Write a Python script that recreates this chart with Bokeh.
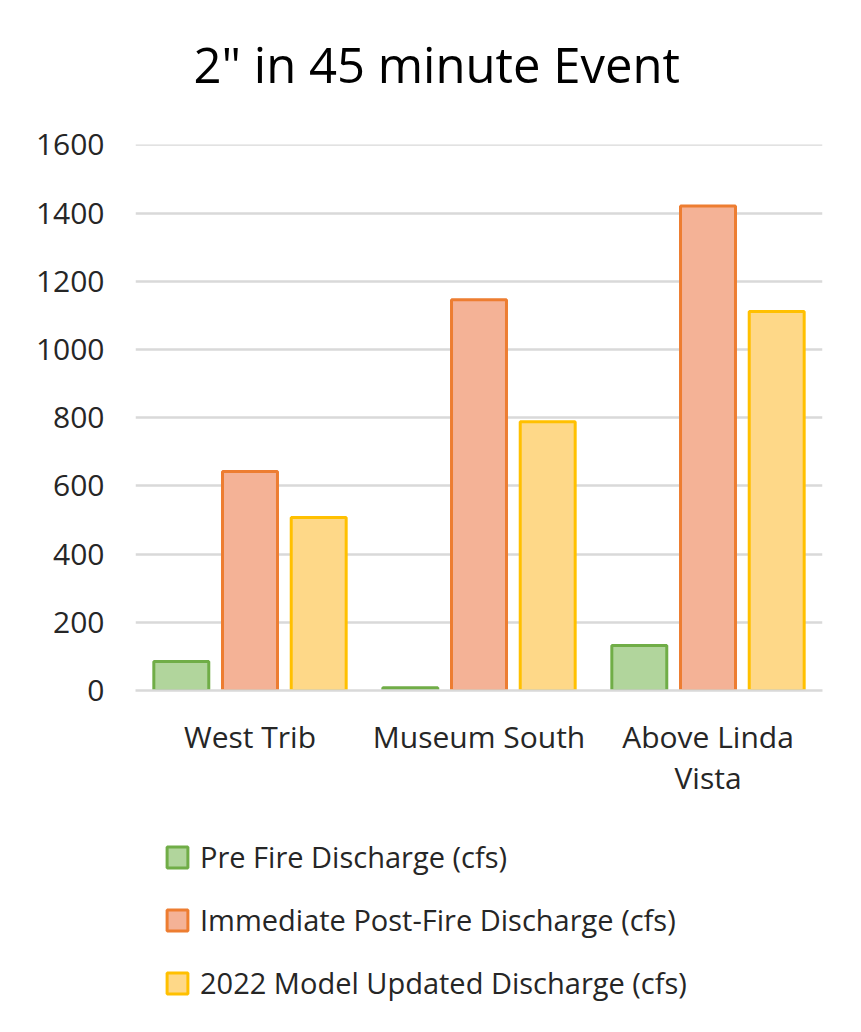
from bokeh.plotting import figure
from bokeh.layouts import column
from bokeh.models import ColumnDataSource, FactorRange, Range1d, Legend, LegendItem, FixedTicker
from bokeh.transform import dodge
from bokeh.embed import file_html
from bokeh.resources import INLINE

categories = ["West Trib", "Museum South", "Above Linda\nVista"]
pre_fire = [85, 8, 132]
post_fire = [642, 1146, 1421]
model_2022 = [507, 788, 1111]
series_names = ["Pre Fire Discharge (cfs)",
                "Immediate Post-Fire Discharge (cfs)",
                "2022 Model Updated Discharge (cfs)"]
y_ticks = [0, 200, 400, 600, 800, 1000, 1200, 1400, 1600]
title_text = '2" in 45 minute Event'

FONT = "Open Sans"
TXT = "#262626"
fills = ["#b1d59c", "#f4b296", "#fed888"]
lines = ["#70ad47", "#ed7d31", "#ffc000"]
fields = ["pre", "post", "model"]
offsets = [-0.3, 0.0, 0.3]

source = ColumnDataSource(dict(cat=categories, pre=pre_fire, post=post_fire, model=model_2022))

# --- title strip ---
p0 = figure(width=853, height=115, output_backend="svg", toolbar_location=None,
            x_axis_location=None, y_axis_location=None, title=title_text,
            min_border_top=101, min_border_left=0, min_border_right=0, min_border_bottom=0)
p0.title.align = "left"
p0.title.offset = 58
p0.title.text_font = FONT
p0.title.text_font_style = "normal"
p0.title.text_font_size = "49px"
p0.title.text_color = "#000000"
p0.title.standoff = 10
p0.grid.visible = False
p0.outline_line_color = None

# --- chart ---
p = figure(x_range=FactorRange(factors=categories), y_range=(0, 1601),
           frame_width=687, frame_height=546, output_backend="svg", toolbar_location=None,
           min_border_left=135, min_border_right=31, min_border_top=29, min_border_bottom=130)

for f, off, fc, lc in zip(fields, offsets, fills, lines):
    p.vbar(x=dodge("cat", off, range=p.x_range), top=f, width=0.24, bottom=0,
           source=source, fill_color=fc, line_color=lc, line_width=3)

p.yaxis.ticker = FixedTicker(ticks=y_ticks)
p.ygrid.ticker = FixedTicker(ticks=y_ticks)
p.ygrid.grid_line_color = "#d9d9d9"
p.ygrid.grid_line_width = 2.5
p.xgrid.grid_line_color = None
p.outline_line_color = None

p.yaxis.axis_line_color = None
p.yaxis.major_tick_line_color = None
p.yaxis.minor_tick_line_color = None
p.yaxis.major_label_standoff = 25
p.yaxis.major_label_text_font = FONT
p.yaxis.major_label_text_font_size = "30px"
p.yaxis.major_label_text_color = TXT

p.xaxis.axis_line_color = "#d9d9d9"
p.xaxis.axis_line_width = 2.5
p.xaxis.major_tick_line_color = None
p.xaxis.minor_tick_line_color = None
p.xaxis.major_label_standoff = 19
p.xaxis.major_label_text_font = FONT
p.xaxis.major_label_text_font_size = "30px"
p.xaxis.major_label_text_line_height = 1.0
p.xaxis.major_label_text_color = TXT

# --- legend strip ---
p2 = figure(width=853, height=196, output_backend="svg", toolbar_location=None,
            x_range=FactorRange(factors=categories), y_range=Range1d(0, 1),
            x_axis_location=None, y_axis_location=None,
            min_border_top=0, min_border_left=0, min_border_right=0, min_border_bottom=0)
p2.grid.visible = False
p2.outline_line_color = None
legend_renderers = []
for f, off, fc, lc in zip(fields, offsets, fills, lines):
    r = p2.vbar(x=dodge("cat", off, range=p2.x_range), top=f, width=0.24, bottom=0,
                source=source, fill_color=fc, line_color=lc, line_width=3, visible=False)
    legend_renderers.append(r)

legend = Legend(items=[LegendItem(label=n, renderers=[r]) for n, r in zip(series_names, legend_renderers)],
                location=(29, 14), orientation="vertical")
legend.border_line_color = None
legend.background_fill_alpha = 0
legend.inactive_fill_alpha = 0
legend.padding = 0
legend.margin = 0
legend.spacing = 24
legend.glyph_width = 26
legend.glyph_height = 26
legend.label_standoff = 10
legend.label_text_font = FONT
legend.label_text_font_size = "29px"
legend.label_text_color = TXT
p2.add_layout(legend, "center")

layout = column(p0, p, p2, spacing=0)
open("out.html", "w").write(file_html(layout, INLINE))
